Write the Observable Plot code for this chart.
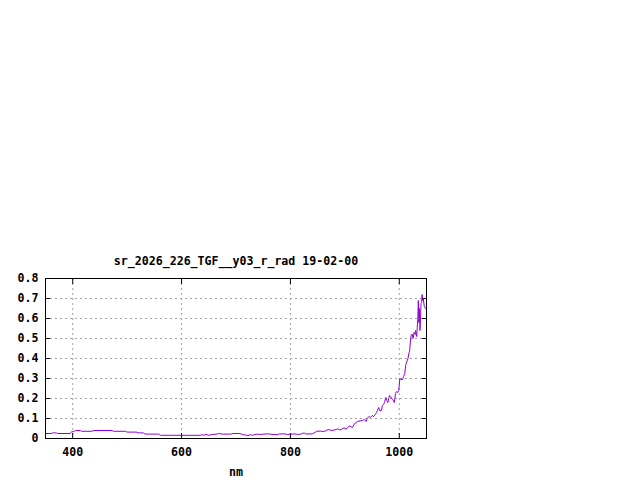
<!DOCTYPE html>
<html>
<head>
<meta charset="utf-8">
<script src="https://cdn.jsdelivr.net/npm/d3@7"></script>
<script src="https://cdn.jsdelivr.net/npm/@observablehq/plot@0.6"></script>
<style>
  html, body { margin: 0; padding: 0; background: #fff; }
  svg { display: block; }
</style>
</head>
<body>
<div id="chart"></div>
<script>
const title = "sr_2026_226_TGF__y03_r_rad 19-02-00";
const xLabel = "nm";
const xTicks = [400, 600, 800, 1000];
const yTicks = [0, 0.1, 0.2, 0.3, 0.4, 0.5, 0.6, 0.7, 0.8];

const wavelength = [
  350, 360, 363, 370, 372, 395, 398, 402, 405, 414, 416, 435, 439, 472, 475, 497,
  500, 518, 520, 530, 533, 558, 561, 580, 600, 634, 637, 640, 645, 650, 655, 665,
  668, 675, 690, 695, 707, 712, 718, 722, 726, 730, 735, 740, 745, 750, 760, 768,
  775, 780, 790, 795, 800, 808, 815, 820, 825, 828, 840, 845, 848, 855, 860, 865,
  869, 872, 876, 880, 884, 887, 890, 894, 897, 900, 902, 905, 909, 912, 914, 918,
  920, 923, 928, 932, 936, 939, 941, 944, 947, 950, 953, 956, 958, 960, 962, 964,
  967, 969, 971, 973, 975, 977, 979, 982, 984, 986, 988, 991, 993, 995, 997, 999,
  1001, 1003, 1006, 1008, 1010, 1012, 1014, 1016, 1018, 1019, 1021, 1022, 1024, 1025, 1026, 1027,
  1029, 1030, 1032, 1034, 1035, 1036, 1037, 1038, 1039, 1040, 1041, 1042, 1043, 1044, 1046, 1048
];
const radiance = [
  0.025, 0.025, 0.028, 0.028, 0.025, 0.025, 0.033, 0.035, 0.040, 0.040, 0.036, 0.036, 0.040, 0.040, 0.036, 0.036,
  0.032, 0.032, 0.028, 0.028, 0.022, 0.022, 0.016, 0.016, 0.016, 0.016, 0.019, 0.016, 0.020, 0.016, 0.020, 0.022,
  0.025, 0.022, 0.022, 0.025, 0.025, 0.020, 0.017, 0.015, 0.019, 0.016, 0.020, 0.022, 0.020, 0.022, 0.023, 0.020,
  0.019, 0.023, 0.023, 0.020, 0.022, 0.023, 0.020, 0.023, 0.028, 0.023, 0.023, 0.030, 0.036, 0.037, 0.035, 0.038,
  0.045, 0.043, 0.040, 0.042, 0.045, 0.048, 0.043, 0.046, 0.052, 0.053, 0.045, 0.055, 0.063, 0.058, 0.055, 0.075,
  0.078, 0.085, 0.088, 0.090, 0.095, 0.085, 0.100, 0.110, 0.105, 0.115, 0.110, 0.120, 0.130, 0.140, 0.155, 0.140,
  0.140, 0.165, 0.170, 0.180, 0.205, 0.190, 0.180, 0.215, 0.210, 0.200, 0.195, 0.180, 0.225, 0.235, 0.230, 0.240,
  0.300, 0.295, 0.295, 0.310, 0.325, 0.370, 0.385, 0.400, 0.430, 0.440, 0.500, 0.520, 0.520, 0.500, 0.505, 0.530,
  0.520, 0.540, 0.510, 0.600, 0.690, 0.580, 0.650, 0.540, 0.600, 0.675, 0.680, 0.720, 0.690, 0.700, 0.660, 0.650
];

const data = wavelength.map((w, i) => ({nm: w, v: radiance[i]}));
const fmtY = d => d === 0 ? "0" : d.toFixed(1);
const fmtX = d => String(d);
const font = "DejaVu Sans Mono, monospace";

const chart = Plot.plot({
  width: 640,
  height: 480,
  marginLeft: 45,
  marginRight: 214,
  marginTop: 278,
  marginBottom: 42,
  style: {fontFamily: font, fontSize: "11.6px", fontWeight: "bold", background: "#fff", color: "#000"},
  x: {domain: [350, 1050]},
  y: {domain: [0, 0.8]},
  marks: [
    Plot.gridX(xTicks, {stroke: "#a0a0a0", strokeOpacity: 1, strokeDasharray: "2,3"}),
    Plot.gridY(yTicks, {stroke: "#a0a0a0", strokeOpacity: 1, strokeDasharray: "2,3"}),
    Plot.axisX(xTicks, {anchor: "bottom", tickSize: 0, tickPadding: 9, tickFormat: fmtX, label: xLabel, labelAnchor: "center", labelArrow: "none", labelOffset: 37}),
    Plot.axisX(xTicks, {anchor: "bottom", tickSize: -5, tickFormat: () => "", label: null}),
    Plot.axisX(xTicks, {anchor: "top", tickSize: -5, tickFormat: () => "", label: null}),
    Plot.axisY(yTicks, {anchor: "left", tickSize: 0, tickPadding: 7, tickFormat: fmtY, label: null}),
    Plot.axisY(yTicks, {anchor: "left", tickSize: -5, tickFormat: () => "", label: null}),
    Plot.axisY(yTicks, {anchor: "right", tickSize: -5, tickFormat: () => "", label: null}),
    Plot.line(data, {x: "nm", y: "v", stroke: "#9400d3", strokeWidth: 1}),
    Plot.frame({stroke: "#000", strokeWidth: 1}),
    Plot.text([title], {frameAnchor: "top", dy: -22, fontSize: 11.6, fontWeight: "bold"})
  ]
});
document.getElementById("chart").appendChild(chart);
</script>
</body>
</html>
